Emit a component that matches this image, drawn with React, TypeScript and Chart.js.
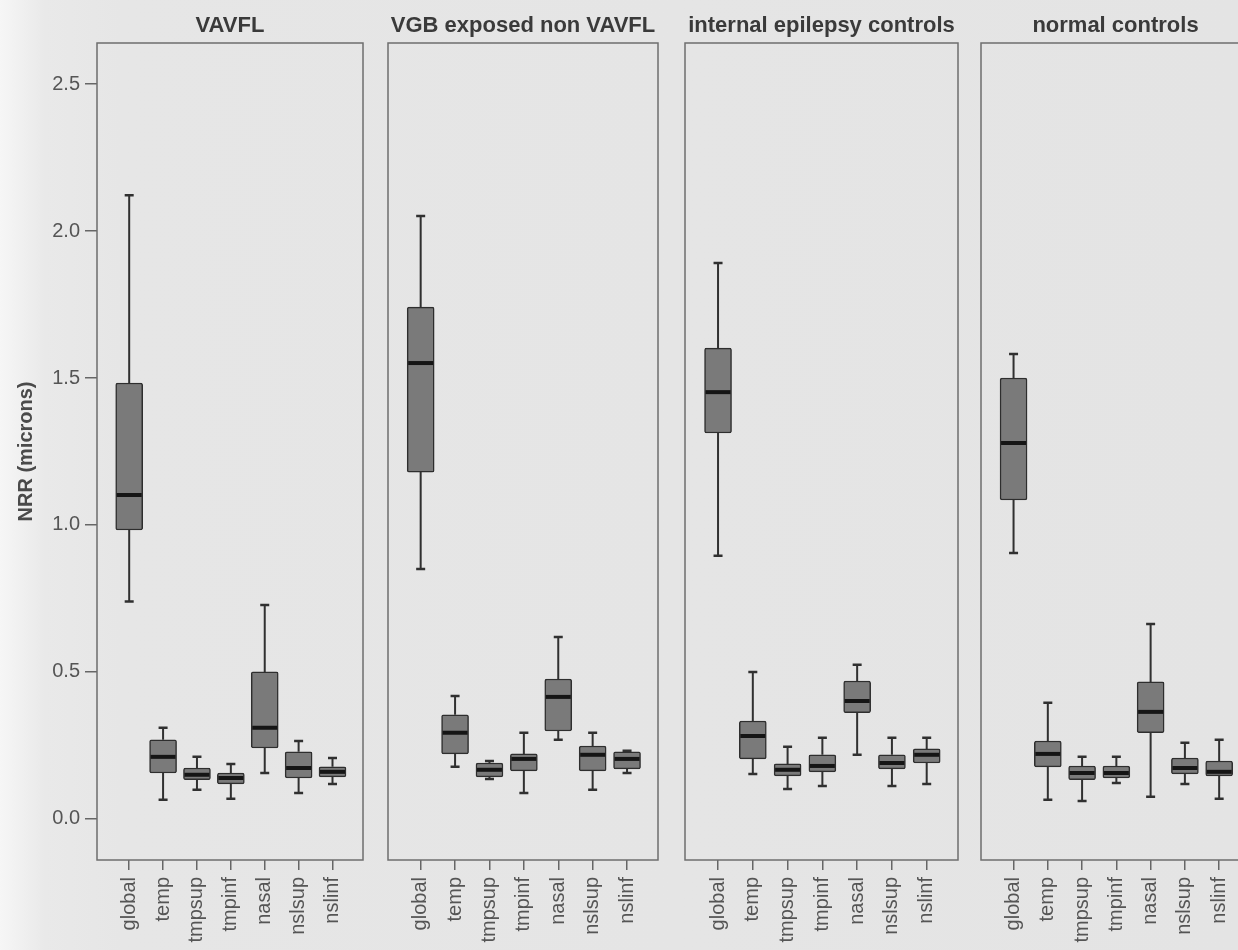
import React, { useEffect, useRef } from 'react';
import { Chart, registerables } from 'chart.js';

Chart.register(...registerables);

const categories = ['global', 'temp', 'tmpsup', 'tmpinf', 'nasal', 'nslsup', 'nslinf'];
const panelTitles = ['VAVFL', 'VGB exposed non VAVFL', 'internal epilepsy controls', 'normal controls'];
const yTickValues = [0, 0.5, 1.0, 1.5, 2.0, 2.5];
const yAxisTitle = 'NRR (microns)';

// VAVFL
const vavflMin = [0.74, 0.065, 0.099, 0.068, 0.156, 0.088, 0.119];
const vavflQ1 = [0.983, 0.156, 0.133, 0.119, 0.241, 0.139, 0.143];
const vavflMed = [1.102, 0.211, 0.15, 0.139, 0.31, 0.173, 0.16];
const vavflQ3 = [1.483, 0.269, 0.173, 0.156, 0.5, 0.228, 0.177];
const vavflMax = [2.122, 0.31, 0.211, 0.187, 0.728, 0.265, 0.207];

// VGB exposed non VAVFL
const vgbMin = [0.85, 0.177, 0.136, 0.088, 0.269, 0.099, 0.156];
const vgbQ1 = [1.18, 0.221, 0.143, 0.163, 0.299, 0.163, 0.17];
const vgbMed = [1.551, 0.293, 0.167, 0.204, 0.415, 0.218, 0.204];
const vgbQ3 = [1.741, 0.354, 0.19, 0.221, 0.476, 0.248, 0.228];
const vgbMax = [2.051, 0.418, 0.197, 0.293, 0.619, 0.293, 0.232];

// internal epilepsy controls
const epiMin = [0.895, 0.153, 0.102, 0.112, 0.218, 0.112, 0.119];
const epiQ1 = [1.313, 0.204, 0.146, 0.16, 0.361, 0.17, 0.19];
const epiMed = [1.452, 0.282, 0.167, 0.18, 0.401, 0.19, 0.218];
const epiQ3 = [1.602, 0.333, 0.187, 0.218, 0.469, 0.218, 0.238];
const epiMax = [1.891, 0.5, 0.245, 0.276, 0.524, 0.276, 0.276];

// normal controls
const normMin = [0.905, 0.065, 0.061, 0.122, 0.075, 0.119, 0.068];
const normQ1 = [1.085, 0.177, 0.133, 0.139, 0.293, 0.153, 0.146];
const normMed = [1.279, 0.221, 0.156, 0.156, 0.364, 0.173, 0.16];
const normQ3 = [1.5, 0.265, 0.18, 0.18, 0.466, 0.207, 0.197];
const normMax = [1.582, 0.395, 0.211, 0.211, 0.663, 0.259, 0.269];

const panelStats = [
  { min: vavflMin, q1: vavflQ1, med: vavflMed, q3: vavflQ3, max: vavflMax },
  { min: vgbMin, q1: vgbQ1, med: vgbMed, q3: vgbQ3, max: vgbMax },
  { min: epiMin, q1: epiQ1, med: epiMed, q3: epiQ3, max: epiMax },
  { min: normMin, q1: normQ1, med: normMed, q3: normQ3, max: normMax },
];

// layout (page pixels)
const PANEL_LEFT = [97, 388, 685, 981];
const PANEL_WIDTH = [266, 270, 273, 269];
const PAD = 6;
const H = 950;
const FONT = "'Liberation Sans', Arial, sans-serif";

function Panel({ index }: { index: number }) {
  const ref = useRef<HTMLCanvasElement | null>(null);
  const first = index === 0;
  const canvasLeft = first ? 0 : PANEL_LEFT[index] - PAD;
  const canvasWidth = first ? PANEL_LEFT[0] + PANEL_WIDTH[0] + PAD : PANEL_WIDTH[index] + 2 * PAD;

  useEffect(() => {
    const canvas = ref.current;
    if (!canvas) return;
    const s = panelStats[index];
    const title = panelTitles[index];

    const boxPlugin = {
      id: 'boxWhisker' + index,
      beforeDatasetsDraw(chart: any) {
        const { ctx, chartArea } = chart;
        const xs = chart.scales.x;
        const ys = chart.scales.y;
        ctx.save();
        // frame
        ctx.strokeStyle = '#6e6e6e';
        ctx.lineWidth = 1.5;
        ctx.strokeRect(chartArea.left, chartArea.top, chartArea.right - chartArea.left, chartArea.bottom - chartArea.top);
        // whiskers
        ctx.strokeStyle = '#303030';
        categories.forEach((_, i) => {
          const px = xs.getPixelForValue(i);
          const yMax = ys.getPixelForValue(s.max[i]);
          const yQ3 = ys.getPixelForValue(s.q3[i]);
          const yQ1 = ys.getPixelForValue(s.q1[i]);
          const yMin = ys.getPixelForValue(s.min[i]);
          ctx.lineWidth = 2;
          ctx.beginPath();
          ctx.moveTo(px, yMax);
          ctx.lineTo(px, yQ3);
          ctx.moveTo(px, yQ1);
          ctx.lineTo(px, yMin);
          ctx.stroke();
          ctx.lineWidth = 2.5;
          ctx.beginPath();
          ctx.moveTo(px - 4.5, yMax);
          ctx.lineTo(px + 4.5, yMax);
          ctx.moveTo(px - 4.5, yMin);
          ctx.lineTo(px + 4.5, yMin);
          ctx.stroke();
        });
        ctx.restore();
      },
      afterDatasetsDraw(chart: any) {
        const { ctx } = chart;
        const ys = chart.scales.y;
        const meta = chart.getDatasetMeta(0);
        ctx.save();
        ctx.strokeStyle = '#151515';
        ctx.lineWidth = 4;
        meta.data.forEach((bar: any, i: number) => {
          const y = ys.getPixelForValue(s.med[i]);
          ctx.beginPath();
          ctx.moveTo(bar.x - bar.width / 2 + 1, y);
          ctx.lineTo(bar.x + bar.width / 2 - 1, y);
          ctx.stroke();
        });
        ctx.restore();
      },
      afterDraw(chart: any) {
        const { ctx, chartArea } = chart;
        ctx.save();
        ctx.fillStyle = '#3a3a3a';
        ctx.font = `bold 22px ${FONT}`;
        ctx.textAlign = 'center';
        ctx.textBaseline = 'middle';
        ctx.fillText(title, (chartArea.left + chartArea.right) / 2, 26);
        ctx.restore();
      },
    };

    const yScale: any = {
      type: 'linear',
      display: first,
      min: -0.14,
      max: 2.64,
      afterBuildTicks: (scale: any) => {
        scale.ticks = yTickValues.map((v) => ({ value: v }));
      },
      ticks: {
        padding: 5,
        color: '#555',
        font: { family: FONT, size: 20 },
        callback: (v: any) => Number(v).toFixed(1),
      },
      grid: { drawOnChartArea: false, drawTicks: true, tickLength: 12, color: '#666', lineWidth: 1.5 },
      border: { display: false },
      title: {
        display: true,
        text: yAxisTitle,
        color: '#4a4a4a',
        font: { family: FONT, size: 20, weight: 'bold' },
        padding: { top: 14, bottom: 0 },
      },
    };
    if (first) {
      yScale.afterFit = (scale: any) => {
        scale.width = PANEL_LEFT[0];
      };
    }

    const chart = new Chart(canvas, {
      type: 'bar',
      data: {
        datasets: [
          {
            data: categories.map((_, i) => ({ x: i, y: [s.q1[i], s.q3[i]] })) as any,
            backgroundColor: '#7a7a7a',
            borderColor: '#2e2e2e',
            borderWidth: 1.5,
            borderRadius: 2,
            borderSkipped: false,
            barThickness: 27,
          },
        ],
      },
      options: {
        responsive: false,
        animation: false,
        devicePixelRatio: 1,
        layout: { padding: { left: first ? 0 : PAD, right: PAD, top: 43, bottom: 0 } },
        plugins: {
          legend: { display: false },
          tooltip: { enabled: false },
          title: { display: false },
        },
        scales: {
          x: {
            type: 'linear',
            offset: false,
            min: -0.95,
            max: 6.9,
            afterBuildTicks: (scale: any) => {
              scale.ticks = categories.map((_, i) => ({ value: i }));
            },
            afterFit: (scale: any) => {
              scale.height = 90;
            },
            ticks: {
              autoSkip: false,
              minRotation: 90,
              maxRotation: 90,
              padding: 7,
              color: '#555',
              font: { family: FONT, size: 20 },
              callback: (v: any) => categories[v] ?? '',
            },
            grid: { offset: false, drawOnChartArea: false, drawTicks: true, tickLength: 10, color: '#666', lineWidth: 1.5 },
            border: { display: false },
          },
          y: yScale,
        },
      } as any,
      plugins: [boxPlugin],
    });
    return () => chart.destroy();
  }, [index]);

  return (
    <canvas
      ref={ref}
      width={canvasWidth}
      height={H}
      style={{ position: 'absolute', left: canvasLeft, top: 0, width: canvasWidth, height: H, display: 'block' }}
    />
  );
}

export default function App() {
  return (
    <div
      style={{
        position: 'fixed',
        left: 0,
        top: 0,
        width: 1238,
        height: 950,
        overflow: 'hidden',
        background: 'linear-gradient(to right, #f6f6f6 0px, #e9e9e9 45px, #e6e6e6 120px, #e4e4e4 100%)',
      }}
    >
      {panelTitles.map((_, i) => (
        <Panel key={i} index={i} />
      ))}
    </div>
  );
}
